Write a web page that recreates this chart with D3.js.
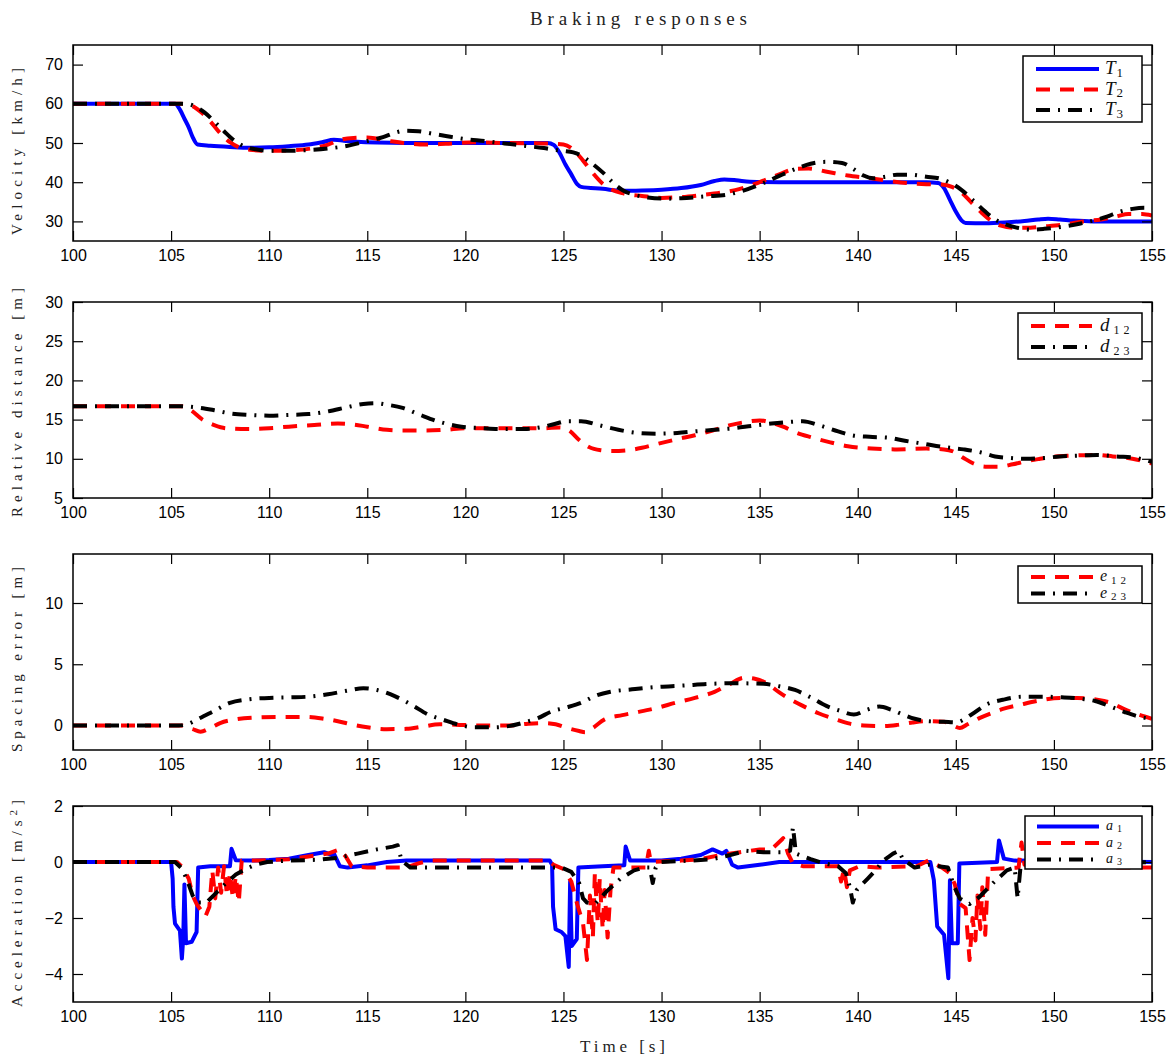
<!DOCTYPE html>
<html>
<head>
<meta charset="utf-8">
<script src="https://cdn.jsdelivr.net/npm/d3@7"></script>
<style>
  body { margin: 0; background: #fff; }
</style>
</head>
<body>
<div id="chart"></div>
<script>
// time axis
const timeTicks = [100, 105, 110, 115, 120, 125, 130, 135, 140, 145, 150, 155];

// velocity [km/h], pairs of [time, value]
const velT1 = [[100,60],[105.2,60],[105.45,58.5],[105.7,56],[105.9,54],[106.1,51.5],[106.35,49.6],[107,49.3],[108,49.0],[109,48.8],[110,48.9],[111,49.2],[112,49.6],[112.7,50.2],[113.3,50.8],[113.8,50.6],[114.5,50.3],[115.5,50.1],[117,50.0],[120,50.0],[123,50.0],[124.2,50.0],[124.5,49.5],[124.8,47.5],[125.1,44.5],[125.4,42],[125.7,39.5],[125.9,38.8],[127,38.3],[128,37.8],[129,37.9],[130,38.1],[131,38.5],[132,39.3],[132.7,40.3],[133.2,40.7],[133.8,40.5],[134.5,40.1],[136,40.0],[140,40.0],[143.5,40.0],[144.1,39.8],[144.4,38.5],[144.7,35.5],[145.0,32.5],[145.3,30.2],[145.5,29.6],[146.5,29.5],[147.5,29.7],[148.5,30.1],[149.2,30.5],[149.7,30.7],[150.3,30.5],[151,30.2],[152,30.0],[155,30.0]];
const velT2 = [[100,60],[105.5,60],[106,59.6],[106.5,58],[107,55.5],[107.5,52.5],[108,50.2],[108.5,48.8],[109,48.3],[110,48.0],[111,48.1],[112,48.5],[113,49.6],[113.6,50.8],[114.3,51.3],[115,51.4],[116,50.6],[117,49.9],[118,49.6],[119,49.8],[120.5,50.2],[122,50.0],[124,49.9],[125,49.6],[125.5,48.3],[126,45.5],[126.5,42.3],[127,39.6],[127.5,38],[128,37.2],[129,36.5],[130,36.0],[131,36.2],[132,36.7],[133,37.3],[134,38.3],[135,40.0],[136,42.0],[136.8,43.4],[137.5,43.5],[138.5,42.6],[139.5,41.7],[140.5,41.1],[141.5,40.4],[142.5,39.8],[143.5,39.5],[144.3,39.4],[144.8,38.8],[145.3,37.3],[145.8,34.8],[146.3,32.3],[146.8,30.2],[147.3,28.9],[147.9,28.4],[148.8,28.4],[149.5,28.7],[150.5,29.2],[151.5,30.0],[152.4,30.5],[153.2,31.3],[153.8,31.9],[154.5,31.9],[155,31.5]];
const velT3 = [[100,60],[105.7,60],[106.2,59.4],[106.7,57.8],[107.2,55.5],[107.7,53],[108.2,50.7],[108.7,49.2],[109.3,48.4],[110,48.0],[111,48.0],[112,48.2],[113,48.6],[114,49.3],[115,50.5],[115.8,51.5],[116.4,52.6],[116.9,53.1],[117.6,53.0],[118.3,52.4],[119,51.8],[120,51.0],[121,50.5],[122,49.9],[123,49.3],[124,48.7],[124.5,48.3],[125,48.0],[125.5,47.6],[125.9,46.8],[126.4,45],[127,42.5],[127.5,40],[128,38.0],[128.6,36.8],[129.3,36.1],[130.2,35.8],[131,35.9],[132.3,36.4],[133.3,36.8],[134,37.6],[135.2,39.8],[136,41.6],[136.8,43.3],[137.6,44.7],[138.4,45.2],[139.2,44.9],[139.8,43.3],[140.3,41.7],[140.8,41.0],[141.4,41.4],[142,41.9],[142.7,41.9],[143.5,41.4],[144.2,40.9],[144.7,39.9],[145.3,38.0],[145.9,35.3],[146.5,32.5],[147,30.5],[147.5,29.3],[148.2,28.3],[148.8,27.9],[149.5,28.1],[150.5,28.7],[151.3,29.4],[152,30.2],[152.7,31.2],[153.3,32.4],[154,33.2],[154.6,33.5],[155,33.3]];
const velTicks = [30, 40, 50, 60, 70];

// relative distance [m]
const dist12 = [[100,16.7],[105.5,16.7],[106,16.2],[106.6,15.0],[107.2,14.3],[107.8,13.9],[108.9,13.8],[110,13.9],[111,14.1],[112.3,14.3],[113.5,14.5],[114.2,14.4],[115,14.1],[116,13.7],[117,13.6],[118,13.6],[119,13.7],[120,13.9],[122,13.9],[124,13.9],[124.8,14.0],[125.3,13.6],[125.8,12.4],[126.3,11.5],[126.9,11.1],[127.5,11.0],[128.3,11.1],[129,11.4],[129.8,11.9],[130.8,12.5],[131.7,13.0],[132.6,13.6],[133.5,14.3],[134.3,14.7],[135,14.9],[135.6,14.6],[136.3,14.0],[136.8,13.4],[137.7,12.7],[138.6,12.1],[139.5,11.6],[140.7,11.3],[142,11.2],[143.5,11.3],[144.4,11.2],[144.9,10.9],[145.4,10.1],[145.9,9.4],[146.5,9.0],[147.2,9.0],[147.9,9.3],[148.6,9.7],[149.3,10.0],[150.1,10.3],[150.9,10.4],[152.2,10.5],[153,10.3],[154,10.0],[155,9.4]];
const dist23 = [[100,16.7],[105.5,16.7],[106.5,16.5],[107.2,16.2],[108,15.8],[109,15.6],[110,15.5],[111,15.6],[112,15.7],[112.9,16.0],[114,16.6],[114.8,17.0],[115.4,17.1],[116,16.9],[116.8,16.5],[117.7,15.6],[118.7,14.7],[119.8,14.1],[120.9,13.9],[121.8,13.8],[123,13.8],[123.8,14.0],[124.5,14.4],[125.2,14.8],[125.9,14.8],[126.8,14.3],[127.8,13.7],[128.8,13.3],[129.8,13.2],[130.8,13.3],[131.7,13.5],[132.7,13.7],[133.7,13.9],[134.6,14.2],[135.6,14.5],[136.5,14.7],[137.2,14.8],[138,14.3],[139,13.5],[139.7,13.0],[140.6,12.8],[141.5,12.7],[142.4,12.3],[143.4,11.9],[144.4,11.5],[145.4,11.2],[146.3,10.8],[147,10.3],[147.8,10.1],[148.6,10.0],[149.5,10.1],[150.3,10.3],[151.3,10.4],[152.2,10.5],[153.2,10.3],[154.2,10.1],[155,9.6]];
const distTicks = [5, 10, 15, 20, 25, 30];

// spacing error [m]
const err12 = [[100,0],[105.5,0],[106.1,-0.3],[106.5,-0.5],[107,-0.2],[107.5,0.2],[108.3,0.5],[109.3,0.65],[110.5,0.7],[111.9,0.7],[112.8,0.55],[113.5,0.35],[114.3,0.05],[115,-0.15],[116,-0.3],[117,-0.27],[117.8,-0.1],[118.7,0.1],[119.7,0.05],[121,0.0],[122.2,0.0],[123.2,0.15],[124,0.2],[124.6,0.1],[125.2,-0.2],[125.8,-0.45],[126.1,-0.55],[126.5,-0.2],[127.1,0.5],[128,0.85],[128.8,1.1],[129.8,1.45],[130.7,1.85],[131.7,2.25],[132.7,2.75],[133.5,3.4],[134.2,3.9],[134.8,3.8],[135.4,3.4],[136,2.7],[136.6,2.1],[137.2,1.6],[138,1.0],[138.8,0.55],[139.6,0.15],[140.3,0.0],[141.2,-0.05],[142,0.05],[142.8,0.25],[143.5,0.35],[144.4,0.3],[144.8,0.05],[145.2,-0.2],[145.6,0.1],[146.2,0.6],[146.8,1.0],[147.4,1.35],[148.3,1.7],[149.3,2.05],[150.3,2.25],[151.2,2.25],[152.2,2.1],[152.9,1.85],[153.5,1.4],[154.2,0.95],[155,0.55]];
const err23 = [[100,0],[105.4,0],[105.8,0.1],[106.4,0.55],[107.2,1.2],[108,1.85],[109,2.15],[110,2.25],[111,2.3],[112,2.35],[113,2.55],[114,2.85],[114.8,3.05],[115.5,2.9],[116.4,2.4],[117.3,1.65],[118.1,0.9],[118.9,0.45],[119.7,0.05],[120.5,-0.15],[121.4,-0.15],[122.2,-0.05],[123,0.25],[123.7,0.6],[124.4,1.15],[125.1,1.45],[125.9,1.85],[126.6,2.4],[127.4,2.75],[128.5,2.95],[129.8,3.15],[131,3.25],[132.5,3.4],[133.7,3.45],[135.2,3.4],[136,3.2],[136.8,2.9],[137.6,2.3],[138.4,1.6],[139.1,1.2],[139.8,0.9],[140.5,1.3],[141.1,1.55],[141.7,1.3],[142.3,0.9],[142.9,0.55],[143.6,0.35],[144.4,0.3],[145,0.25],[145.8,0.9],[146.6,1.75],[147.4,2.1],[148.4,2.35],[149.5,2.35],[150.4,2.3],[151.3,2.2],[152.1,2.0],[152.8,1.6],[153.6,1.1],[154.4,0.7],[155,0.55]];
const errTicks = [0, 5, 10];

// acceleration [m/s^2]
const acc1 = [[100,0],[105.0,0],[105.08,-0.6],[105.12,-1.6],[105.2,-2.2],[105.45,-2.45],[105.55,-3.45],[105.62,-2.7],[105.68,-0.8],[105.76,-2.9],[106.05,-2.85],[106.3,-2.5],[106.38,-0.2],[107,-0.15],[108.0,-0.15],[108.08,0.47],[108.3,0.06],[109,0.05],[110,0.07],[111,0.12],[112,0.25],[112.8,0.35],[113.2,0.25],[113.3,0.3],[113.6,-0.15],[114,-0.2],[115,-0.12],[116,0.0],[117,0.05],[120,0.05],[124.3,0.05],[124.42,-0.1],[124.47,-1.6],[124.6,-2.4],[124.9,-2.5],[125.1,-2.65],[125.27,-3.75],[125.34,-0.7],[125.42,-3.0],[125.68,-2.75],[125.76,-0.2],[127,-0.15],[128.1,-0.12],[128.17,0.55],[128.4,0.05],[130,0.05],[131,0.12],[132,0.25],[132.6,0.45],[133.1,0.3],[133.3,0.4],[133.6,-0.1],[133.9,-0.2],[135,-0.1],[136,0.0],[138,0.0],[143.7,0.0],[143.88,-0.65],[144.05,-2.3],[144.4,-2.6],[144.62,-4.15],[144.7,-0.65],[144.8,-2.9],[145.1,-2.9],[145.18,-0.05],[147.1,0.0],[147.2,0.77],[147.45,0.12],[148,0.05],[155,0.0]];
const acc2 = [[100,0],[105.3,0],[105.6,-0.2],[105.9,-0.6],[106.1,-1.2],[106.3,-1.5],[106.5,-1.7],[106.75,-1.95],[106.95,-1.6],[107.1,-0.3],[107.25,-1.3],[107.4,-0.2],[107.55,-1.1],[107.7,-0.15],[107.85,-1.2],[108.0,-0.4],[108.15,-1.3],[108.3,-0.5],[108.45,-1.45],[108.6,0.05],[109.5,0.05],[111,0.1],[112,0.2],[113,0.3],[113.6,0.45],[113.9,0.2],[114.2,-0.15],[115,-0.2],[117,-0.2],[117.6,-0.05],[118.2,0.05],[120,0.05],[124.2,0.05],[124.5,-0.1],[125.0,-0.25],[125.4,-0.7],[125.7,-1.5],[126.0,-2.2],[126.2,-3.5],[126.35,-1.2],[126.5,-2.7],[126.6,-0.4],[126.75,-2.2],[126.85,-0.6],[127.0,-2.4],[127.1,-1.0],[127.25,-2.7],[127.4,-1.0],[127.55,-0.2],[129.2,-0.2],[129.35,0.4],[129.45,0.0],[131,0.05],[132,0.1],[133,0.25],[134,0.35],[135,0.45],[135.6,0.45],[136.2,0.85],[136.45,0.3],[136.7,-0.05],[137.2,-0.15],[139,-0.15],[139.15,-0.7],[139.3,-0.25],[139.45,-0.9],[139.6,-0.3],[140.1,-0.15],[141,-0.2],[143,-0.15],[143.6,0.05],[144.3,-0.2],[144.7,-0.4],[144.95,-0.8],[145.2,-1.5],[145.5,-1.65],[145.7,-3.5],[145.85,-2.0],[146.0,-2.8],[146.1,-1.2],[146.25,-2.4],[146.35,-0.9],[146.5,-2.6],[146.65,-0.25],[148.2,-0.2],[148.35,0.7],[148.5,-0.1],[150,-0.15],[153.5,-0.2],[155,-0.2]];
const acc3 = [[100,0],[105.2,0],[105.5,-0.2],[105.8,-0.6],[106.1,-1.2],[106.4,-1.45],[106.8,-1.45],[107.3,-1.1],[107.8,-0.75],[108.3,-0.45],[108.8,-0.25],[109.3,-0.1],[109.9,0.0],[111,0.05],[112.5,0.08],[113.5,0.15],[114.5,0.3],[115.5,0.45],[116.3,0.55],[116.55,0.6],[116.75,0.05],[117.2,-0.2],[121,-0.2],[124.2,-0.2],[124.9,-0.2],[125.4,-0.35],[125.8,-0.75],[126.0,-1.3],[126.2,-1.45],[126.6,-1.5],[127.2,-1.05],[127.9,-0.6],[128.6,-0.3],[129.1,-0.2],[129.4,-0.2],[129.55,-0.75],[129.7,-0.2],[130.0,0.0],[131.5,0.05],[132.6,0.1],[133.5,0.25],[134.3,0.4],[135.2,0.35],[136.2,0.35],[136.55,0.4],[136.7,1.25],[136.85,0.3],[137.6,0.1],[138.3,-0.05],[139.0,-0.15],[139.4,-0.4],[139.6,-0.9],[139.75,-1.45],[139.95,-1.0],[140.5,-0.6],[140.9,-0.3],[141.3,0.05],[141.8,0.3],[142.1,0.4],[142.3,0.1],[142.9,-0.2],[143.6,-0.1],[144.1,-0.15],[144.6,-0.2],[144.9,-0.85],[145.2,-1.3],[145.7,-1.5],[146.2,-1.25],[146.9,-0.75],[147.6,-0.3],[148.0,-0.2],[148.15,-1.3],[148.3,-0.15],[149,-0.1],[152,-0.05],[155,0.0]];
const accTicks = [-4, -2, 0, 2];

const w = 1173;
const h = 1055;
const left = 73;
const right = 1152;
const ph = 196;

const BLUE = "#0000ff";
const RED = "#ff0000";
const BLACK = "#000000";
const DASH = "14,10";
const DASHDOT = "14,8,2,8";
const SERIF = "'Liberation Serif', 'DejaVu Serif', serif";

const svg = d3.select("#chart")
    .append("svg")
    .attr("width", w)
    .attr("height", h)
    .style("font-family", "'Liberation Sans', Arial, sans-serif");

const xScale = d3.scaleLinear().domain([100, 155]).range([left, right]);

// panel setup
const panels = [
    {
        id: "vel", top: 45, domain: [25, 75], ticks: velTicks,
        label: "Velocity [km/h]", labelSpan: [68, 235], smooth: true,
        series: [
            { data: velT1, color: BLUE, dash: null, sym: "T", sub: "1" },
            { data: velT2, color: RED, dash: DASH, sym: "T", sub: "2" },
            { data: velT3, color: BLACK, dash: DASHDOT, sym: "T", sub: "3" }
        ],
        legend: { x: 1023, y: 56, w: 119, h: 66, rows: [69, 89.5, 110], line: [1036, 1099], tx: 1105, fs: 19, sfs: 13, upright: false }
    },
    {
        id: "dist", top: 302, domain: [5, 30], ticks: distTicks,
        label: "Relative distance [m]", labelSpan: [288, 517], smooth: true,
        series: [
            { data: dist12, color: RED, dash: DASH, sym: "d", sub: "12" },
            { data: dist23, color: BLACK, dash: DASHDOT, sym: "d", sub: "23" }
        ],
        legend: { x: 1018, y: 313, w: 124, h: 46, rows: [326, 347], line: [1031, 1092], tx: 1100, fs: 19, sfs: 12, upright: true }
    },
    {
        id: "err", top: 554, domain: [-2, 14], ticks: errTicks,
        label: "Spacing error [m]", labelSpan: [567, 752], smooth: true,
        series: [
            { data: err12, color: RED, dash: DASH, sym: "e", sub: "12" },
            { data: err23, color: BLACK, dash: DASHDOT, sym: "e", sub: "23" }
        ],
        legend: { x: 1018, y: 566, w: 124, h: 37, rows: [577, 593.5], line: [1031, 1093], tx: 1100, fs: 16, sfs: 11, upright: true }
    },
    {
        id: "acc", top: 806, domain: [-5, 2], ticks: accTicks,
        label: "Acceleration [m/s2]", labelSpan: [800, 1007], smooth: false,
        series: [
            { data: acc1, color: BLUE, dash: null, sym: "a", sub: "1" },
            { data: acc2, color: RED, dash: DASH, sym: "a", sub: "2" },
            { data: acc3, color: BLACK, dash: DASHDOT, sym: "a", sub: "3" }
        ],
        legend: { x: 1025, y: 816, w: 117, h: 53, rows: [826.5, 843, 859.5], line: [1037, 1099], tx: 1106, fs: 14, sfs: 10, upright: true }
    }
];

panels.forEach((p) => drawPanel(p));

// title and x label
svg.append("text")
    .attr("x", 530)
    .attr("y", 25)
    .attr("textLength", 217)
    .attr("lengthAdjust", "spacing")
    .style("font-family", SERIF)
    .style("font-size", "19px")
    .attr("fill", "#222")
    .text("Braking responses");

svg.append("text")
    .attr("x", 580)
    .attr("y", 1052)
    .attr("textLength", 85)
    .attr("lengthAdjust", "spacing")
    .style("font-family", SERIF)
    .style("font-size", "17px")
    .attr("fill", "#222")
    .text("Time [s]");

function drawPanel(p) {
    const bottom = p.top + ph;
    const yScale = d3.scaleLinear().domain(p.domain).range([bottom, p.top]);
    const g = svg.append("g").attr("id", p.id);

    // clip the curves to the plot box
    g.append("clipPath")
        .attr("id", "clip-" + p.id)
        .append("rect")
        .attr("x", left)
        .attr("y", p.top)
        .attr("width", right - left)
        .attr("height", ph);

    const line = d3.line()
        .x((d) => xScale(d[0]))
        .y((d) => yScale(d[1]))
        .curve(p.smooth ? d3.curveMonotoneX : d3.curveLinear);

    const curves = g.append("g").attr("clip-path", `url(#clip-${p.id})`);
    curves.selectAll("path")
        .data(p.series)
        .enter()
        .append("path")
        .attr("d", (s) => line(s.data))
        .attr("fill", "none")
        .attr("stroke", (s) => s.color)
        .attr("stroke-width", 4)
        .attr("stroke-linejoin", "round")
        .attr("stroke-dasharray", (s) => s.dash);

    // axes, ticks pointing inwards like matlab
    const xBottom = d3.axisBottom(xScale).tickValues(timeTicks)
        .tickSizeInner(-10).tickSizeOuter(0).tickPadding(9).tickFormat(d3.format("d"));
    const xTop = d3.axisTop(xScale).tickValues(timeTicks)
        .tickSizeInner(-10).tickSizeOuter(0).tickFormat("");
    const yLeft = d3.axisLeft(yScale).tickValues(p.ticks)
        .tickSizeInner(-10).tickSizeOuter(0).tickPadding(10).tickFormat(d3.format("d"));
    const yRight = d3.axisRight(yScale).tickValues(p.ticks)
        .tickSizeInner(-10).tickSizeOuter(0).tickFormat("");

    const axes = [
        g.append("g").attr("transform", `translate(0,${bottom})`).call(xBottom),
        g.append("g").attr("transform", `translate(0,${p.top})`).call(xTop),
        g.append("g").attr("transform", `translate(${left},0)`).call(yLeft),
        g.append("g").attr("transform", `translate(${right},0)`).call(yRight)
    ];
    axes.forEach((a) => {
        a.select(".domain").remove();
        a.selectAll(".tick line").attr("stroke", "#000").attr("stroke-width", 1.2);
        a.selectAll(".tick text")
            .attr("fill", "#000")
            .style("font-size", "16px")
            .style("font-family", "'Liberation Sans', Arial, sans-serif");
    });

    g.append("rect")
        .attr("x", left)
        .attr("y", p.top)
        .attr("width", right - left)
        .attr("height", ph)
        .attr("fill", "none")
        .attr("stroke", "#000")
        .attr("stroke-width", 1.5);

    // y label, rotated
    const span = p.labelSpan;
    const cy = (span[0] + span[1]) / 2;
    const lab = g.append("text")
        .attr("transform", `translate(22,${cy}) rotate(-90)`)
        .attr("text-anchor", "middle")
        .attr("textLength", span[1] - span[0])
        .attr("lengthAdjust", "spacing")
        .style("font-family", SERIF)
        .style("font-size", "15px")
        .attr("fill", "#222");
    if (p.label.endsWith("s2]")) {
        lab.append("tspan").text("Acceleration [m/s");
        lab.append("tspan").attr("dy", -5).style("font-size", "11px").text("2");
        lab.append("tspan").attr("dy", 5).text("]");
    } else {
        lab.text(p.label);
    }

    // legend
    const L = p.legend;
    const leg = g.append("g");
    leg.append("rect")
        .attr("x", L.x)
        .attr("y", L.y)
        .attr("width", L.w)
        .attr("height", L.h)
        .attr("fill", "#fff")
        .attr("stroke", "#000")
        .attr("stroke-width", 1.5);
    p.series.forEach((s, i) => {
        const ry = L.rows[i];
        leg.append("line")
            .attr("x1", L.line[0])
            .attr("x2", L.line[1])
            .attr("y1", ry)
            .attr("y2", ry)
            .attr("stroke", s.color)
            .attr("stroke-width", 4)
            .attr("stroke-dasharray", s.dash);
        const t = leg.append("text")
            .attr("x", L.tx)
            .attr("y", ry + L.fs * 0.28)
            .style("font-family", SERIF)
            .attr("fill", "#111");
        t.append("tspan")
            .style("font-style", "italic")
            .style("font-size", L.fs + "px")
            .text(s.sym);
        t.append("tspan")
            .attr("dx", L.upright ? 4 : 1)
            .attr("dy", L.sfs * 0.2)
            .style("font-size", L.sfs + "px")
            .style("letter-spacing", s.sub.length > 1 ? "4px" : "0px")
            .text(s.sub);
    });
}
</script>
</body>
</html>
